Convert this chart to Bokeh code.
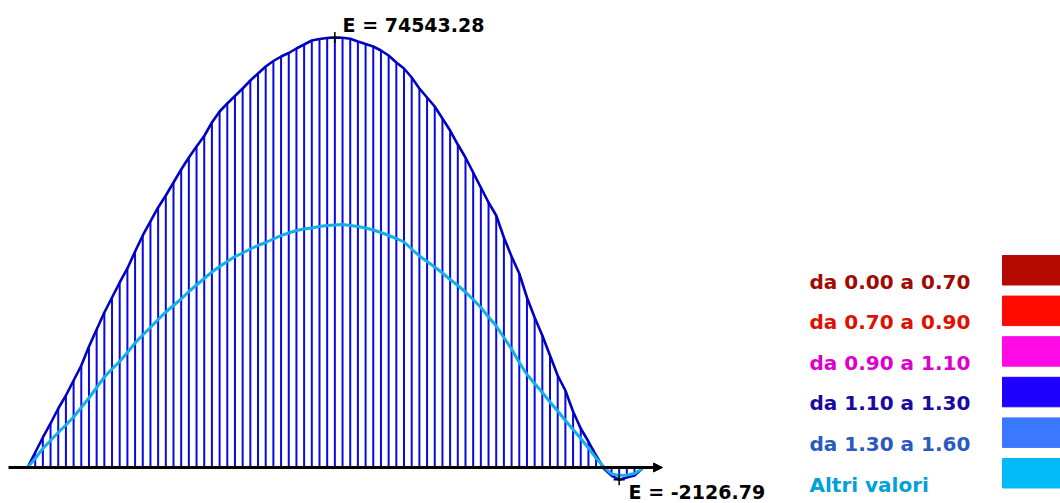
from bokeh.plotting import figure
from bokeh.models import Range1d, ColumnDataSource, Arrow, NormalHead
from bokeh.core.properties import value
from bokeh.embed import file_html
from bokeh.resources import INLINE

# ---------------- data ----------------
stations = list(range(81))

# envelope (outline + hatching)
main_values = [
    0, 2600, 5201, 7628, 10228, 12482, 15082, 17683, 20977, 23924,
    26871, 29471, 32072, 34499, 37446, 40220, 42647, 45074, 47154, 49408,
    51661, 53742, 55649, 57469, 59809, 61716, 63103, 64403, 65703, 67090,
    68304, 69517, 70471, 71251, 71858, 72638, 73331, 74025, 74285, 74456,
    74543.28, 74491, 74319, 73851, 73418, 72985, 72291, 71424, 70211, 69171,
    67610, 65703, 64143, 62583, 60503, 58422, 55995, 53742, 51141, 48541,
    45940, 43687, 39873, 36579, 33632, 29471, 26004, 22884, 19416, 15949,
    13349, 9708, 6761, 4507, 2080, -173, -1387, -2126.79, -1734, -1387,
    -200,
]

# second curve ("Altri valori")
other_values = [
    0, 1560, 3294, 4681, 6068, 7368, 8755, 10402, 12049, 13869,
    15689, 17076, 18376, 19936, 21583, 22970, 24270, 25657, 26957, 28084,
    29211, 30511, 31638, 32765, 33892, 34845, 35712, 36579, 37186, 37879,
    38486, 39006, 39613, 40220, 40653, 41086, 41346, 41520, 41780, 41953,
    42040, 42126, 41953, 41780, 41520, 41173, 40740, 40220, 39699, 39093,
    37879, 36666, 35712, 34759, 33719, 32592, 31552, 30425, 29124, 27738,
    26091, 24530, 22537, 20543, 18203, 16122, 14562, 13002, 11355, 9795,
    8148, 6588, 5027, 3381, 1647, 87, -1127, -1387, -1300, -1040,
    -200,
]

legend_labels = [
    "da 0.00 a 0.70",
    "da 0.70 a 0.90",
    "da 0.90 a 1.10",
    "da 1.10 a 1.30",
    "da 1.30 a 1.60",
    "Altri valori",
]
legend_swatch_colors = ["#B40A00", "#FF0A00", "#FF0AE6", "#1E00FF", "#3A78FF", "#00BBF8"]
legend_text_colors = ["#A00A00", "#E01000", "#DD00CC", "#1A0AA0", "#2A5ABF", "#00A0D8"]

# ---------------- layout helpers (canvas pixel -> data) ----------------
W, H = 1060, 503
DX = 7.684          # px per station
X0 = 27.0           # canvas x of station 0
Y0 = 467.0          # canvas y of zero line
SY = 173.36         # value units per px

def px(xc):
    return (xc - X0) / DX

def py(yc):
    return (Y0 - yc) * SY

p = figure(width=W, height=H, output_backend="svg", toolbar_location=None,
           x_range=Range1d(px(0), px(W)), y_range=Range1d(py(H), py(0)),
           x_axis_type=None, y_axis_type=None, min_border=0)
p.grid.visible = False
p.outline_line_color = None
p.background_fill_color = "white"
p.border_fill_color = "white"

src = ColumnDataSource(dict(x=stations, m=main_values, o=other_values,
                            z=[0] * len(stations)))

# hatching verticals
p.segment(x0="x", y0="z", x1="x", y1="m", source=src, line_color="#0A0ADC", line_width=2)
# outline
p.line("x", "m", source=src, line_color="#0000C4", line_width=2.6)
# other curve
p.line("x", "o", source=src, line_color="#14AEEA", line_width=3)

# zero axis with arrow
p.add_layout(Arrow(x_start=px(8), y_start=0, x_end=px(662), y_end=0,
                   line_color="black", line_width=3,
                   end=NormalHead(size=9, fill_color="black", line_color="black")))

# extreme markers and labels
imax = max(range(len(main_values)), key=lambda i: main_values[i])
imin = min(range(len(main_values)), key=lambda i: main_values[i])
vmax, vmin = main_values[imax], main_values[imin]
p.scatter([stations[imax], stations[imin]], [vmax, vmin], marker="cross", size=11,
          line_color="black", line_width=1.5)

font = value("DejaVu Sans")
p.text(x=[stations[imax] + 7.7 / DX], y=[py(24)], text=[f"E = {vmax:.2f}"],
       text_font=font, text_font_style="bold", text_font_size="19px",
       text_color="black", text_align="left", text_baseline="alphabetic")
p.text(x=[stations[imin] + 9.4 / DX], y=[py(491)], text=[f"E = {vmin:.2f}"],
       text_font=font, text_font_style="bold", text_font_size="19px",
       text_color="black", text_align="left", text_baseline="alphabetic")

# legend
n = len(legend_labels)
row = 40.6
tops = [255 + row * k for k in range(n)]
leg = ColumnDataSource(dict(
    left=[px(1002)] * n, right=[px(1064)] * n,
    top=[py(t) for t in tops], bottom=[py(t + 29.5) for t in tops],
    tx=[px(809)] * n, ty=[py(t + 26) for t in tops],
    label=legend_labels, sc=legend_swatch_colors, tc=legend_text_colors,
))
p.quad(left="left", right="right", top="top", bottom="bottom", source=leg,
       fill_color="sc", line_color="sc")
p.text(x="tx", y="ty", text="label", source=leg, text_color="tc",
       text_font=font, text_font_style="bold", text_font_size="20px",
       text_align="left", text_baseline="alphabetic")

open("out.html", "w").write(file_html(p, INLINE))
